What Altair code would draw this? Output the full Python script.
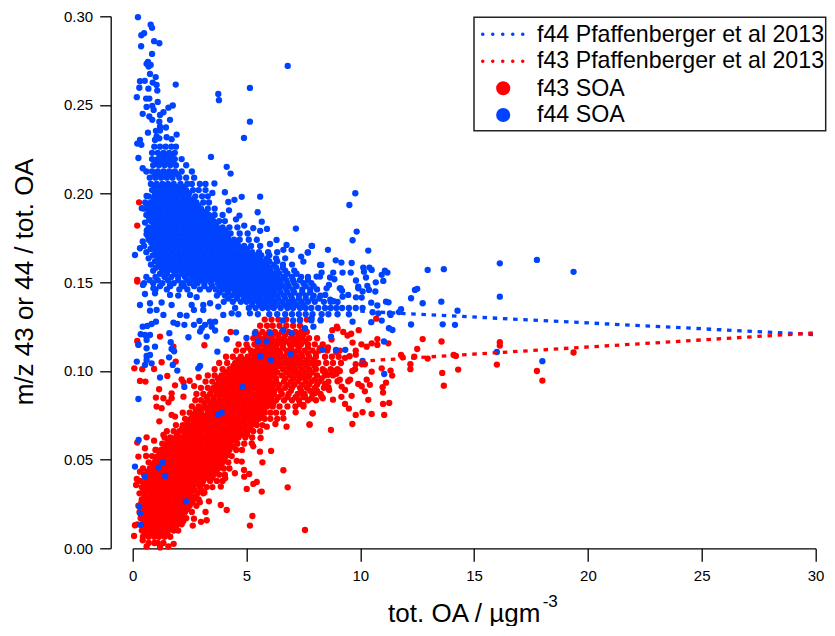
import altair as alt
import pandas as pd

x_ticks = [0, 5, 10, 15, 20, 25, 30]
y_ticks = [0.0, 0.05, 0.10, 0.15, 0.20, 0.25, 0.30]
legend_labels = ["f44 Pfaffenberger et al 2013", "f43 Pfaffenberger et al 2013", "f43 SOA", "f44 SOA"]
BLUE = "#0043ff"
RED = "#ff0000"

ref_x = [10, 30]
ref_f44 = [0.1337, 0.1205]
ref_f43 = [0.1055, 0.1215]

f43_rows = [
 (.003,[.7,.95,1.1,1.35]),
 (.0065,[.45,.7,.95,1.15,1.4,1.65]),
 (.010,[.4,.6,.85,1.1,1.3,1.55,1.8,2.0]),
 (.0135,[.2,.45,.7,.95,1.2,1.45,1.7,1.95,2.15]),
 (.017,[.35,.6,.85,1.1,1.35,1.6,1.85,2.1,2.35]),
 (.0205,[.3,.55,.8,1.05,1.3,1.55,1.8,2.05,2.3,2.6]),
 (.024,[.25,.5,.75,1.0,1.25,1.5,1.75,2.0,2.25,2.5,2.8]),
 (.0275,[.4,.65,.9,1.15,1.4,1.65,1.9,2.15,2.4,2.65,2.9]),
 (.031,[.3,.55,.8,1.05,1.3,1.55,1.8,2.05,2.3,2.55,2.85,3.1]),
 (.0345,[.4,.65,.9,1.15,1.4,1.65,1.9,2.15,2.4,2.65,2.95,3.25,3.5]),
 (.038,[.35,.6,.85,1.1,1.35,1.6,1.85,2.1,2.35,2.6,2.85,3.1,3.4,3.7,3.95]),
 (.0415,[.5,.8,1.05,1.3,1.55,1.8,2.05,2.3,2.55,2.8,3.05,3.3,3.55,3.8,4.05]),
 (.045,[.45,.75,1.0,1.25,1.5,1.75,2.0,2.25,2.5,2.75,3.0,3.25,3.5,3.75,4.0,4.25]),
 (.0485,[.7,.95,1.2,1.45,1.7,1.95,2.2,2.45,2.7,2.95,3.2,3.45,3.7,3.95,4.2]),
 (.052,[.85,1.1,1.35,1.6,1.85,2.1,2.35,2.6,2.85,3.1,3.35,3.6,3.85,4.1,4.35]),
 (.0555,[1.0,1.25,1.5,1.75,2.0,2.25,2.5,2.75,3.0,3.25,3.5,3.75,4.0,4.25,4.55,4.8]),
 (.059,[1.3,1.55,1.8,2.05,2.3,2.55,2.8,3.05,3.3,3.55,3.8,4.05,4.3,4.6,4.9]),
 (.0625,[1.4,1.65,1.9,2.15,2.4,2.65,2.9,3.15,3.4,3.65,3.9,4.15,4.4,4.65,4.95,5.25]),
 (.066,[1.5,1.8,2.05,2.3,2.55,2.8,3.05,3.3,3.55,3.8,4.05,4.3,4.55,4.8,5.05,5.3,5.6]),
 (.0695,[1.9,2.2,2.45,2.7,2.95,3.2,3.45,3.7,3.95,4.2,4.45,4.7,4.95,5.2,5.45,5.7]),
 (.073,[2.3,2.55,2.8,3.05,3.3,3.55,3.8,4.05,4.3,4.55,4.8,5.05,5.3,5.55,5.8,6.05,6.35]),
 (.0765,[2.2,2.5,2.75,3.0,3.3,3.55,3.8,4.05,4.3,4.55,4.8,5.05,5.3,5.55,5.8,6.05,6.3,6.6]),
 (.080,[2.6,2.9,3.15,3.4,3.65,3.9,4.15,4.4,4.65,4.9,5.15,5.4,5.65,5.9,6.15,6.45,6.8,7.15,7.5]),
 (.0835,[2.75,3.0,3.3,3.55,3.8,4.05,4.3,4.55,4.8,5.05,5.3,5.55,5.8,6.05,6.3,6.65,7.0,7.3,7.7,8.05]),
 (.087,[2.8,3.1,3.4,3.7,3.95,4.2,4.45,4.7,4.95,5.2,5.45,5.7,5.95,6.2,6.55,6.85,7.25,7.55,7.9,8.25]),
 (.0905,[3.0,3.3,3.55,3.85,4.1,4.35,4.6,4.85,5.1,5.35,5.6,5.85,6.1,6.4,6.7,7.0,7.35,7.65,8.0,8.4]),
 (.094,[3.2,3.5,3.8,4.05,4.3,4.55,4.8,5.05,5.3,5.55,5.8,6.05,6.3,6.65,6.95,7.25,7.6,7.85,8.2,8.6]),
 (.0975,[3.3,3.6,3.9,4.2,4.45,4.7,4.95,5.2,5.45,5.7,5.95,6.2,6.55,6.9,7.2,7.45,7.75,8.1,8.45,8.8]),
 (.101,[3.6,3.95,4.25,4.5,4.75,5.0,5.25,5.5,5.75,6.0,6.25,6.6,6.9,7.15,7.45,7.75,8.05,8.35,8.7,9.0]),
 (.1045,[3.8,4.15,4.5,4.8,5.05,5.3,5.55,5.8,6.05,6.3,6.65,6.95,7.2,7.5,7.85,8.15,8.5,8.8,9.15]),
 (.108,[4.1,4.4,4.75,5.05,5.35,5.6,5.85,6.1,6.35,6.65,6.95,7.2,7.45,7.75,8.05,8.45,8.75,9.05]),
 (.1115,[4.55,4.85,5.2,5.45,5.7,5.95,6.2,6.45,6.75,7.0,7.25,7.55,7.9,8.2,8.55]),
 (.115,[4.65,5.0,5.35,5.6,5.85,6.1,6.35,6.6,6.9,7.15,7.4,7.7,8.0,8.35]),
 (.1185,[5.3,5.6,5.85,6.1,6.4,6.65,6.95,7.2,7.45,7.75,8.1]),
 (.122,[4.3,5.4,5.7,6.0,6.25,6.55,6.85,7.15,7.4,7.65]),
 (.1255,[5.6,5.9,6.15,6.45,6.75,7.05,7.35]),
 (.129,[5.8,6.1,6.4,6.75,7.35,7.65]),
 # denser core of the red cloud
 (.0082,[.55,.82,1.02,1.27,1.52]),
 (.0118,[.5,.73,.97,1.2,1.42,1.67,1.9]),
 (.0152,[.47,.72,.98,1.22,1.47,1.72,1.98,2.22]),
 (.0188,[.43,.68,.93,1.18,1.43,1.68,1.93,2.18]),
 (.0222,[.42,.67,.92,1.17,1.42,1.67,1.92,2.17,2.42]),
 (.0258,[.38,.62,.88,1.12,1.38,1.62,1.88,2.12,2.38,2.63]),
 (.0292,[.52,.78,1.02,1.27,1.52,1.78,2.03,2.28,2.52,2.78]),
 (.0328,[.47,.73,.97,1.22,1.47,1.73,1.97,2.22,2.47,2.72,3.0]),
 (.0362,[.52,.78,1.02,1.28,1.52,1.78,2.02,2.28,2.52,2.78,3.05]),
 (.0398,[.72,.98,1.22,1.47,1.72,1.97,2.22,2.47,2.72,2.97,3.22,3.5]),
 (.0432,[.65,.92,1.18,1.42,1.67,1.92,2.18,2.42,2.67,2.92,3.18,3.42,3.67]),
 (.0468,[.88,1.12,1.38,1.62,1.88,2.12,2.38,2.62,2.88,3.12,3.38,3.62,3.88]),
 (.0502,[1.02,1.28,1.52,1.78,2.02,2.28,2.52,2.78,3.02,3.28,3.52,3.78,4.02]),
 (.0538,[1.2,1.42,1.67,1.92,2.18,2.42,2.67,2.92,3.18,3.42,3.67,3.92,4.18]),
 (.0572,[1.4,1.67,1.92,2.18,2.42,2.67,2.92,3.18,3.42,3.67,3.92,4.18,4.42]),
 (.0608,[1.55,1.78,2.02,2.28,2.52,2.78,3.02,3.28,3.52,3.78,4.02,4.28,4.52]),
 (.0642,[1.95,2.28,2.52,2.78,3.02,3.28,3.52,3.78,4.02,4.28,4.52,4.78,5.02]),
 (.0678,[2.18,2.42,2.67,2.92,3.18,3.42,3.67,3.92,4.18,4.42,4.67,4.92,5.18]),
 (.0712,[2.4,2.67,2.92,3.18,3.42,3.67,3.92,4.18,4.42,4.67,4.92,5.18,5.42]),
 (.0748,[2.65,2.92,3.18,3.42,3.67,3.92,4.18,4.42,4.67,4.92,5.18,5.42,5.67]),
 (.0782,[2.78,3.02,3.28,3.52,3.78,4.02,4.28,4.52,4.78,5.02,5.28,5.52,5.78]),
 (.0818,[3.15,3.42,3.67,3.92,4.18,4.42,4.67,4.92,5.18,5.42,5.67,5.92,6.18]),
 (.0852,[3.25,3.55,3.82,4.08,4.32,4.58,4.82,5.08,5.32,5.58,5.82,6.08,6.4,6.8,7.15,7.5]),
 (.0888,[3.48,3.72,3.98,4.22,4.48,4.72,4.98,5.22,5.48,5.72,5.98,6.22,6.5,6.95,7.4,7.8,8.1]),
 (.0922,[3.68,3.92,4.18,4.42,4.68,4.92,5.18,5.42,5.68,5.92,6.18,6.45,6.8,7.1,7.45,7.75,8.1]),
 (.0958,[3.75,4.02,4.28,4.52,4.78,5.02,5.28,5.52,5.78,6.02,6.3,6.7,7.05,7.35,7.6,8.3]),
 (.0992,[4.08,4.32,4.58,4.82,5.08,5.32,5.58,5.82,6.08,6.35,6.75,7.05,7.3,7.6,7.9]),
 (.1028,[4.42,4.68,4.92,5.18,5.42,5.68,5.92,6.18,6.45,6.8,7.05,7.35,7.65,8.0]),
 (.1062,[4.62,4.92,5.18,5.42,5.68,5.92,6.18,6.48,6.8,7.1,7.35,7.65,7.95]),
 (.1098,[5.22,5.48,5.72,5.98,6.22,6.48,6.8,7.1,7.4,7.7,8.05]),
 (.1132,[5.05,5.5,5.8,6.05,6.3,6.6,6.95,7.3,7.7]),
 (.1168,[5.5,5.75,6.0,6.25,6.5,6.75,7.05,7.3,7.6]),
 (.1203,[5.5,5.85,6.15,6.4,6.7,7.0,7.3,7.5]),
]

f43_scatter = [
 (12.74,.118),(13.57,.1166),(12.5,.1124),(11.79,.109),(11.86,.1077),(12.37,.108),(12.2,.1038),(12.2,.101),
 (12.96,.107),(14.1,.109),(14.2,.1085),(13.6,.0989),(14.3,.1008),(13.67,.0917),(16.13,.1162),(16.13,.1143),
 (16.0,.1036),(17.76,.1),(18.0,.0946),(19.37,.1104),(10.75,.118),(11.23,.1156),(10.7,.1295),(9.93,.123),
 (10.05,.115),(10.28,.1137),(10.5,.1156),(10.75,.1147),(9.66,.116),(9.8,.1115),(9.25,.122),(9.44,.12),
 (10.2,.1038),(10.5,.0996),(10.94,.1015),(11.33,.1002),(11.4,.0974),(11.13,.0934),(10.98,.0908),(11.0,.0878),
 (11.27,.082),(11.0,.0814),(11.05,.0752),(10.5,.0758),(10.1,.0767),(9.8,.0752),(9.5,.0788),(9.33,.0814),
 (10.35,.0837),(9.62,.086),(9.17,.0854),(8.8,.0838),(9.65,.0701),(8.71,.0667),(7.77,.0697),(7.9,.0761),
 (10.28,.0951),(10.06,.0914),(10.42,.0922),(10.2,.0885),(9.91,.0927),(9.55,.0951),(9.47,.0942),(9.1,.0951),
 (9.0,.0942),(9.18,.0912),(9.33,.0893),(8.45,.0927),(8.63,.0893),(8.6,.0908),(8.3,.0855),(8.35,.0846),
 (8.0,.0874),(7.86,.0846),(7.57,.0855),(7.35,.0874),(7.5,.0809),(7.35,.0814),(8.0,.0951),(7.75,.097),
 (8.47,.0987),(8.6,.0978),(8.0,.1027),(9.65,.1),(9.33,.1074),(9.1,.1),(8.95,.0984),(8.76,.0985),(9.77,.101),
 (9.1,.1115),(8.94,.1107),(9.53,.1083),(9.8,.1092),(9.8,.1038),(10.07,.1038),(8.58,.1133),(8.85,.1),
 (8.22,.1128),(8.36,.1),(8.44,.1),(8.74,.1177),(9.6,.121),(9.0,.1241),(8.77,.123),(8.97,.125),
 (.2,.1504),(.28,.1951),(.2,.182),(.2,.1513),
 (1.2,.1194),(.2,.1169),(.25,.1147),(1.79,.1137),(3.15,.1145),(1.27,.1049),(1.89,.1053),(.07,.1015),(.42,.101),
 (.94,.1011),(.32,.0944),(.56,.094),(1.52,.0972),(2.15,.0953),(2.23,.0936),(1.86,.0919),(1.16,.0897),
 (1.02,.085),(1.35,.0846),(1.71,.0874),(1.71,.0846),(1.57,.0823),(1.05,.0799),(1.27,.079),(2.23,.0855),
 (2.5,.0945),(2.7,.0915),(2.9,.0965),(1.71,.0752),(1.86,.0743),(1.17,.0716),(.61,.0626),(.2,.0596),(.94,.0607),
 (1.35,.0639),(.54,.0564),(.25,.0517),(.59,.0521),(1.02,.0555),(.18,.0391),(.15,.0357),(.32,.0432),(.06,.007),
 (.44,.0045),(.61,.001),(1.2,.0005),(1.57,.001),(1.8,.0025),(.1,.013),
 (7.57,.0103),(5.26,.0182),(5.15,.0128),(2.64,.0128),(3.0,.0149),(3.25,.0158),(2.69,.0167),(4.13,.0216),
 (3.87,.0244),(5.67,.032),(5.01,.0335),(5.45,.0374),(5.3,.0363),(6.81,.0344),(6.62,.044),(5.12,.0419),
 (4.9,.0404),(4.49,.0423),(5.7,.0485),(4.57,.0493),(4.79,.0489),(4.89,.0442),(4.06,.0395),(3.87,.0348),
 (5.59,.0545),(6.08,.0549),(5.23,.0592),(5.3,.0575),(5.62,.0622),(5.89,.0686),(6.27,.0701),(6.76,.0686),
 (7.77,.0699),(7.91,.0761),(7.16,.0767),(6.62,.0733),(3.2,.0205),(3.35,.0265),(2.95,.026),(3.15,.0315),
]

f44_rows = [
 (.2265,[.95,1.2,1.45,1.7,1.9]),
 (.223,[.85,1.1,1.35,1.6,1.85]),
 (.2195,[.85,1.1,1.35,1.6,1.85,2.15]),
 (.216,[.9,1.15,1.4,1.65,1.9,2.35]),
 (.2125,[.6,.85,1.1,1.35,1.6,1.85,2.15,2.6]),
 (.209,[.75,1.0,1.25,1.5,1.75,2.05,2.35,2.7]),
 (.2055,[.8,1.05,1.3,1.55,1.8,2.1,2.4,2.6,2.95,3.2]),
 (.202,[.85,1.1,1.35,1.6,1.85,2.1,2.35,2.65,2.9,3.2]),
 (.1985,[.7,.95,1.2,1.45,1.7,1.95,2.2,2.45,2.75,3.05,3.3]),
 (.195,[.55,.8,1.05,1.3,1.55,1.8,2.05,2.3,2.55,2.8,3.1,3.35]),
 (.1915,[.5,.75,1.0,1.25,1.5,1.75,2.0,2.25,2.5,2.75,3.0,3.3,3.6]),
 (.188,[.6,.85,1.1,1.35,1.6,1.85,2.1,2.35,2.6,2.85,3.1,3.35,3.6,3.95]),
 (.1845,[.8,1.05,1.3,1.55,1.8,2.05,2.3,2.55,2.8,3.05,3.3,3.55,3.8,4.05]),
 (.181,[.7,.95,1.2,1.45,1.7,1.95,2.2,2.45,2.7,2.95,3.2,3.45,3.7,3.95,4.25,4.6]),
 (.1775,[.8,1.05,1.3,1.55,1.8,2.05,2.3,2.55,2.8,3.05,3.3,3.55,3.8,4.05,4.3,4.7,5.05]),
 (.174,[.7,.95,1.2,1.45,1.7,1.95,2.2,2.45,2.7,2.95,3.2,3.45,3.7,3.95,4.2,4.45,4.7,5.1,5.45]),
 (.1705,[.5,.9,1.15,1.4,1.65,1.9,2.15,2.4,2.65,2.9,3.15,3.4,3.65,3.9,4.15,4.4,4.65,4.9,5.2,5.6]),
 (.167,[.6,1.0,1.25,1.5,1.75,2.0,2.25,2.5,2.75,3.0,3.25,3.5,3.75,4.0,4.25,4.5,4.75,5.0,5.25,5.55,5.95,6.35]),
 (.1635,[.7,1.1,1.35,1.6,1.85,2.1,2.35,2.6,2.85,3.1,3.35,3.6,3.85,4.1,4.35,4.6,4.85,5.1,5.35,5.6,5.9,6.3,6.7]),
 (.16,[.8,1.15,1.4,1.65,1.9,2.15,2.4,2.65,2.9,3.15,3.4,3.65,3.9,4.15,4.4,4.65,4.9,5.15,5.4,5.65,5.9,6.2,6.6,7.0]),
 (.1565,[.9,1.3,1.55,1.8,2.05,2.3,2.55,2.8,3.05,3.3,3.55,3.8,4.05,4.3,4.55,4.8,5.05,5.3,5.55,5.8,6.05,6.35,6.7,7.1]),
 (.153,[.6,1.0,1.4,1.7,2.0,2.3,2.6,2.85,3.1,3.35,3.6,3.85,4.1,4.35,4.6,4.85,5.1,5.35,5.6,5.85,6.1,6.35,6.65,7.0,7.4,7.7]),
 (.1495,[.5,.9,1.3,1.8,2.2,2.5,2.85,3.15,3.45,3.75,4.0,4.25,4.5,4.75,5.0,5.25,5.5,5.75,6.0,6.25,6.5,6.8,7.1,7.5,7.85]),
 (.146,[1.0,1.5,2.05,2.4,2.95,3.35,3.65,3.95,4.2,4.45,4.7,4.95,5.2,5.45,5.7,5.95,6.2,6.45,6.75,7.05,7.45,7.8,8.1]),
 (.1425,[3.7,4.05,4.35,4.6,4.85,5.1,5.35,5.6,5.85,6.1,6.35,6.65,6.95,7.3,7.6,7.95,8.25]),
 (.139,[4.0,4.4,4.75,5.0,5.25,5.5,5.75,6.0,6.25,6.55,6.85,7.1,7.4,7.7,8.0,8.4,8.7]),
 (.1355,[4.5,5.1,5.4,5.7,5.95,6.2,6.5,6.8,7.05,7.35,7.6,7.85,8.15,8.45,8.7,8.95,9.2,9.5,9.8,10.1]),
 (.132,[5.5,6.0,6.35,6.7,7.0,7.3,7.6,7.9,8.3,8.6,9.0,9.5]),
 (.1285,[6.6,7.05,7.35,7.85,8.26]),
 # denser core of the blue cloud
 (.2212,[1.22,1.48,1.72]),
 (.2178,[1.02,1.28,1.52,1.78]),
 (.2108,[.98,1.22,1.48,1.72,1.98]),
 (.2038,[.98,1.22,1.48,1.72,1.98,2.22]),
 (.2002,[.98,1.22,1.48,1.72,1.98,2.22,2.48]),
 (.1968,[.92,1.18,1.42,1.67,1.92,2.18,2.42,2.67]),
 (.1932,[.65,.88,1.12,1.38,1.62,1.88,2.12,2.38,2.62,2.88]),
 (.1898,[.72,.98,1.22,1.48,1.72,1.98,2.22,2.48,2.72,2.98,3.22]),
 (.1862,[.72,.98,1.22,1.48,1.72,1.98,2.22,2.48,2.72,2.98,3.22,3.48]),
 (.1828,[.92,1.18,1.42,1.67,1.92,2.18,2.42,2.67,2.92,3.18,3.42,3.67]),
 (.1792,[.62,.82,1.08,1.32,1.58,1.82,2.08,2.32,2.58,2.82,3.08,3.32,3.58,3.82,4.08]),
 (.1758,[.68,.92,1.18,1.42,1.67,1.92,2.18,2.42,2.67,2.92,3.18,3.42,3.67,3.92,4.18]),
 (.1722,[.82,1.08,1.32,1.58,1.82,2.08,2.32,2.58,2.82,3.08,3.32,3.58,3.82,4.08,4.32,4.58]),
 (.1688,[.78,1.02,1.28,1.52,1.78,2.02,2.28,2.52,2.78,3.02,3.28,3.52,3.78,4.02,4.28,4.52,4.78,5.02]),
 (.1652,[.88,1.12,1.38,1.62,1.88,2.12,2.38,2.62,2.88,3.12,3.38,3.62,3.88,4.12,4.38,4.62,4.88,5.12,5.38,5.65,6.0]),
 (.1618,[.98,1.25,1.48,1.72,1.98,2.22,2.48,2.72,2.98,3.22,3.48,3.72,3.98,4.22,4.48,4.72,4.98,5.22,5.48,5.72,6.0,6.35]),
 (.1582,[1.02,1.27,1.52,1.78,2.02,2.28,2.52,2.78,3.02,3.28,3.52,3.78,4.02,4.28,4.52,4.78,5.02,5.28,5.52,5.78,6.02,6.3,6.6]),
 (.1548,[1.2,1.5,1.85,2.18,2.42,2.67,2.92,3.18,3.42,3.67,3.92,4.18,4.42,4.67,4.92,5.18,5.42,5.67,5.92,6.18,6.45,6.8,7.2]),
 (.1512,[.75,1.1,1.55,2.0,2.4,2.7,2.98,3.22,3.48,3.72,3.98,4.22,4.48,4.72,4.98,5.22,5.48,5.72,5.98,6.22,6.48,6.75,7.05,7.35,7.7]),
 (.1478,[1.2,1.65,2.25,2.7,3.15,3.5,3.82,4.08,4.32,4.58,4.82,5.08,5.32,5.58,5.82,6.08,6.32,6.58,6.85,7.2,7.6,7.95]),
 (.1442,[3.82,4.18,4.48,4.72,4.98,5.22,5.48,5.72,5.98,6.22,6.5,6.8,7.1,7.45,7.8]),
 (.1408,[4.2,4.58,4.88,5.12,5.38,5.62,5.88,6.12,6.4,6.7,7.0,7.3,7.6,7.9,8.2]),
 (.1372,[5.25,5.55,5.82,6.08,6.35,6.65,6.92,7.2,7.5]),
]

f44_scatter = [
 (.23,.2995),(.79,.2953),(.85,.2935),(.5,.2905),(.38,.2893),(.94,.286),(1.17,.2848),(.37,.2831),(.85,.2788),
 (.67,.2743),(.61,.2732),(.79,.2726),(.7,.2717),(.76,.2675),(1.01,.2657),(.32,.2634),(.53,.2636),(.88,.2626),
 (1.05,.2613),(1.89,.2615),(.29,.2597),(.69,.2592),(1.08,.2581),(.18,.2544),(.59,.2536),(.73,.2536),(1.1,.2517),
 (3.76,.2562),(3.79,.2527),(5.15,.2596),(6.81,.272),(5.15,.2406),(4.89,.2314),(3.44,.2207),(4.13,.2151),(4.3,.2113),
 (.61,.2489),(.86,.2495),(.92,.2472),(1.76,.2497),(1.57,.2485),(1.35,.2459),(1.2,.2444),(.44,.245),(.73,.2435),
 (.86,.2416),(1.64,.2416),(1.17,.2406),(1.2,.2378),(1.46,.2373),(1.02,.2354),(1.2,.2356),(.67,.2344),(1.93,.2333),
 (1.05,.2322),(1.17,.2312),(.98,.2303),(1.49,.2318),(1.71,.2307),(.32,.2303),(.2,.2282),(.38,.2275),(.25,.2201),
 (5.6,.1983),(4.79,.1982),(4.47,.1965),(4.2,.1953),(4.05,.2008),(3.59,.2057),(3.5,.2004),(5.49,.1895),(4.23,.1906),
 (4.69,.1876),(5.67,.1842),(4.54,.1855),(7.17,.1803),(5.9,.1801),(5.3,.1805),(4.9,.182),(5.6,.179),(7.86,.1705),
 (6.76,.1711),(7.69,.1668),(6.98,.1683),(6.32,.1739),(6.03,.1716),(6.62,.1683),(8.23,.1598),
 (.1,.1654),(.32,.1692),(.44,.173),(.61,.1771),(.54,.1837),(.4,.1918),(.61,.1987),(.44,.2143),
 (9.78,.2002),(9.52,.1936),(9.84,.1786),(9.66,.1737),(8.58,.1683),(10.35,.1679),(7.88,.1705),(7.7,.1668),(7.4,.1645),
 (7.5,.1617),(8.92,.1624),(9.17,.1611),(9.62,.1609),(8.29,.1598),(16.13,.1607),(17.76,.1626),(19.37,.1559),
 (12.96,.157),(13.67,.1574),(10.13,.1583),(10.16,.156),(10.4,.1583),(10.5,.157),(11.08,.1566),(11.19,.1555),
 (10.94,.1542),(8.81,.1555),(9.22,.1555),(9.58,.1555),(8.3,.1555),(8.08,.1532),(8.23,.1532),(8.67,.1527),(8.86,.1517),
 (10.25,.1527),(9.81,.151),(11.01,.1508),(10.68,.15),(9.91,.1476),(10.31,.148),(10.38,.1457),(10.66,.1448),
 (10.1,.1448),(9.91,.1466),(9.14,.1466),(9.2,.1452),(12.4,.1457),(12.5,.1463),(12.23,.141),(12.74,.1382),
 (13.56,.1391),(16.13,.1419),(14.27,.134),(11.79,.1348),(11.7,.1332),(11.3,.1325),(11.33,.1316),(11.13,.1391),
 (11.24,.1387),(10.48,.1385),(10.75,.1369),(10.79,.1325),(10.54,.1331),(12.23,.1262),(13.62,.1263),(14.16,.126),
 (10.94,.1284),(10.48,.1275),(9.66,.1278),(11.26,.1241),(11.41,.1231),(16.0,.1107),(18.0,.1055),(11.04,.1166),
 (10.1,.1057),(11.05,.0983),(9.34,.1119),(8.93,.1119),(8.35,.1119),(8.71,.1194),(7.94,.125),(7.57,.1241),(8.26,.1288),
 (7.86,.1297),(9.81,.1415),(10.06,.1414),(9.47,.1429),(9.22,.1419),(9.1,.1466),(8.62,.1485),(8.52,.1466),(8.46,.1429),
 (8.68,.1402),(8.83,.1393),(9.0,.1389),
 (.45,.1485),(.91,.1466),(1.64,.1485),(2.15,.1485),(.54,.1434),(.98,.1438),(1.64,.1429),(2.0,.1425),(2.52,.1429),
 (2.81,.1416),(.32,.1372),(.76,.1382),(1.27,.1386),(1.71,.1372),(2.59,.1372),(3.1,.1372),(.76,.134),(1.05,.1344),
 (1.35,.1316),(2.08,.1316),(2.37,.1312),(2.69,.1344),(3.1,.1344),(3.4,.1382),(3.76,.1363),(3.98,.1316),(4.35,.1325),
 (4.64,.132),(5.15,.1325),(1.79,.1273),(1.96,.1265),(2.27,.126),(2.69,.126),(2.93,.1282),(3.18,.126),(3.4,.1278),
 (3.62,.1278),(3.47,.125),(3.62,.1228),(3.03,.1241),(2.96,.1222),(1.02,.1278),(.83,.1265),(.64,.1254),(.44,.125),
 (.35,.1207),(.54,.1203),(.76,.1203),(.61,.1175),(.25,.1151),(.61,.1128),(.98,.1137),(.61,.1085),(.76,.109),
 (.61,.1062),(.18,.1053),(.83,.1043),(.54,.1034),(1.61,.1213),(1.67,.1162),(1.71,.1124),(1.82,.1111),(1.6,.1077),
 (1.76,.1034),(1.96,.1002),(1.2,.0963),(2.45,.119),(3.25,.1194),(3.72,.1109),(2.96,.1028),(2.88,.1015),(2.27,.091),
 (.25,.0842),(4.83,.091),(3.76,.0754),(3.91,.0765),(5.61,.1083),(6.08,.1062),(6.94,.1096),(4.13,.1179),(4.54,.1218),
 (5.0,.1186),(5.37,.1213),(5.5,.1166),(5.89,.1166),(6.03,.1213),(6.62,.1231),(6.98,.1213),
 (.26,.0611),(.1,.0461),(1.32,.0483),(1.14,.0455),(.54,.0404),(1.43,.0408),(2.34,.0265),(.29,.0235),(.32,.0197),(.35,.0132),
]

f43_pts = [(x, y) for y, xs in f43_rows for x in xs] + f43_scatter
f44_pts = [(x, y) for y, xs in f44_rows for x in xs] + f44_scatter
f43_df = pd.DataFrame(f43_pts, columns=["x", "y"])
f44_df = pd.DataFrame(f44_pts, columns=["x", "y"])
ref44_df = pd.DataFrame({"x": ref_x, "y": ref_f44})
ref43_df = pd.DataFrame({"x": ref_x, "y": ref_f43})

x_scale = alt.Scale(domain=[0, 30], nice=False, zero=False)
y_scale = alt.Scale(domain=[0, 0.30], nice=False, zero=False)
FONT = "Liberation Sans"

x_enc = alt.X("x:Q", scale=x_scale, axis=alt.Axis(
    values=x_ticks, format="d", title="tot. OA / µgm", titleFont=FONT, titleFontSize=26,
    titleFontWeight="normal", titleColor="black", titleX=331, titleY=73, titleBaseline="alphabetic",
    labelFont=FONT, labelFontSize=15, labelColor="black", labelPadding=7, tickSize=13, tickColor="black",
    tickWidth=1.3, domainColor="black", domainWidth=1.3, grid=False, labelFlush=False))
y_enc = alt.Y("y:Q", scale=y_scale, axis=alt.Axis(
    values=y_ticks, format=".2f", title="m/z 43 or 44 / tot. OA", titleFont=FONT, titleFontSize=26,
    titleFontWeight="normal", titleColor="black", titleX=-78, titleY=265, titleBaseline="alphabetic",
    labelFont=FONT, labelFontSize=15, labelColor="black", labelPadding=7, tickSize=11, tickColor="black",
    tickWidth=1.3, domainColor="black", domainWidth=1.3, grid=False, offset=22))

red_pts = alt.Chart(f43_df).mark_circle(size=40, color=RED, opacity=1).encode(x=x_enc, y=y_enc)
blue_pts = alt.Chart(f44_df).mark_circle(size=40, color=BLUE, opacity=1).encode(x=x_enc, y=y_enc)
line_44 = alt.Chart(ref44_df).mark_line(color=BLUE, strokeWidth=3.3, strokeDash=[4.5, 5.7]).encode(x=x_enc, y=y_enc)
line_43 = alt.Chart(ref43_df).mark_line(color=RED, strokeWidth=3.3, strokeDash=[4.5, 5.7]).encode(x=x_enc, y=y_enc)

one = pd.DataFrame({"a": [0]})
sup = alt.Chart(one).mark_text(text="-3", font=FONT, fontSize=17, color="black", align="left", baseline="alphabetic").encode(
    x=alt.value(410), y=alt.value(591))

box = alt.Chart(one).mark_rect(fill="white", stroke="#222222", strokeWidth=1.5).encode(
    x=alt.value(341.3), x2=alt.value(693), y=alt.value(1), y2=alt.value(114.4))
text_rows = [25.4, 52, 79.4, 105.4]
leg_texts = [
    alt.Chart(one).mark_text(text=t, font=FONT, fontSize=23.2, color="black", align="left", baseline="alphabetic").encode(
        x=alt.value(404.3), y=alt.value(py))
    for t, py in zip(legend_labels, text_rows)
]
leg_line44 = alt.Chart(one).mark_rule(color=BLUE, strokeWidth=3.5, strokeCap="round", strokeDash=[0.1, 9.9]).encode(
    x=alt.value(350), x2=alt.value(394), y=alt.value(18))
leg_line43 = alt.Chart(one).mark_rule(color=RED, strokeWidth=3.5, strokeCap="round", strokeDash=[0.1, 9.9]).encode(
    x=alt.value(350), x2=alt.value(394), y=alt.value(45))
leg_c43 = alt.Chart(one).mark_circle(size=200, color=RED, opacity=1).encode(x=alt.value(370.5), y=alt.value(72))
leg_c44 = alt.Chart(one).mark_circle(size=200, color=BLUE, opacity=1).encode(x=alt.value(370.5), y=alt.value(98.7))

chart = alt.layer(
    red_pts, blue_pts, line_44, line_43, sup, box, *leg_texts, leg_line44, leg_line43, leg_c43, leg_c44
).properties(
    width=682.8, height=532,
    padding={"left": 124.7, "top": 8.3, "right": 11.5, "bottom": 78},
    autosize=alt.AutoSizeParams(type="none"),
).configure_view(stroke=None)

chart.save("out.html", embed_options={"renderer": "svg", "actions": False})
